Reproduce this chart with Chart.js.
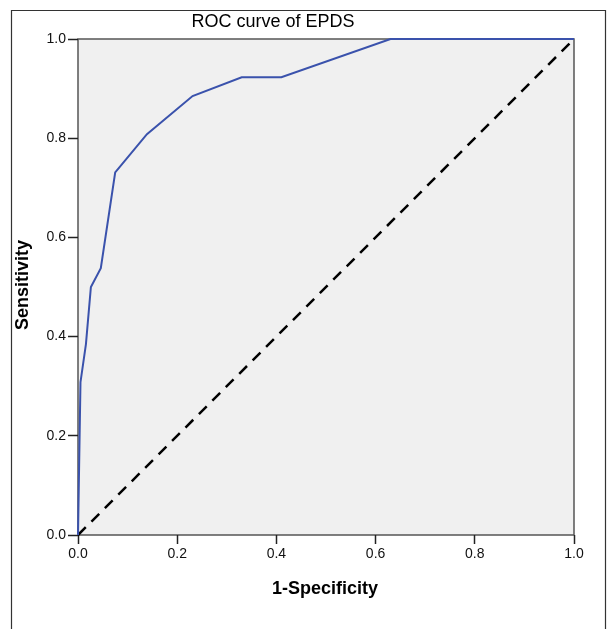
<!DOCTYPE html>
<html>
<head>
<meta charset="utf-8">
<script src="https://cdn.jsdelivr.net/npm/chart.js@4"></script>
<style>
  html, body { margin: 0; padding: 0; background: #fff; }
  #wrap { width: 608px; height: 629px; }
</style>
</head>
<body>
<div id="wrap"><canvas id="roc"></canvas></div>
<script>
// ROC curve points
var fpr = [0, 0.005, 0.016, 0.026, 0.046, 0.075, 0.139, 0.231, 0.33, 0.41, 0.63, 1.0];
var tpr = [0, 0.308, 0.385, 0.5, 0.538, 0.731, 0.808, 0.885, 0.923, 0.923, 1.0, 1.0];
var refX = [0, 1];
var refY = [0, 1];
var tickVals = [0, 0.2, 0.4, 0.6, 0.8, 1.0];

function toPoints(xs, ys) {
    return xs.map(function (x, i) { return { x: x, y: ys[i] }; });
}

var frame = {
    id: 'frame',
    beforeDraw: function (chart) {
        var c = chart.ctx, a = chart.chartArea;
        c.save();
        c.fillStyle = '#f0f0f0';
        c.fillRect(a.left, a.top, a.right - a.left, a.bottom - a.top);
        c.strokeStyle = '#555';
        c.lineWidth = 1.5;
        c.strokeRect(a.left, a.top, a.right - a.left, a.bottom - a.top);
        // outer border
        c.strokeStyle = '#333';
        c.lineWidth = 1.2;
        c.beginPath();
        c.moveTo(11.5, 629);
        c.lineTo(11.5, 10.5);
        c.lineTo(605.5, 10.5);
        c.lineTo(605.5, 629);
        c.stroke();
        c.restore();
    },
    afterDraw: function (chart) {
        var c = chart.ctx;
        c.save();
        c.fillStyle = '#000';
        c.textAlign = 'center';
        c.textBaseline = 'middle';
        c.font = '18px Arial, "Liberation Sans"';
        c.fillText('ROC curve of EPDS', 273, 22);
        c.font = 'bold 18px Arial, "Liberation Sans"';
        c.fillText('1-Specificity', 325, 589);
        c.translate(23, 285);
        c.rotate(-Math.PI / 2);
        c.fillText('Sensitivity', 0, 0);
        c.restore();
    }
};

var ctx = document.getElementById('roc').getContext('2d');
new Chart(ctx, {
    type: 'scatter',
    data: {
        datasets: [{
            data: toPoints(refX, refY),
            showLine: true,
            borderColor: '#000',
            borderWidth: 2.5,
            borderDash: [11, 8],
            pointRadius: 0,
            clip: false,
            order: 2
        }, {
            data: toPoints(fpr, tpr),
            showLine: true,
            borderColor: 'rgb(58, 82, 172)',
            borderWidth: 2,
            pointRadius: 0,
            clip: false,
            order: 1
        }]
    },
    plugins: [frame],
    options: {
        responsive: true,
        maintainAspectRatio: false,
        animation: false,
        layout: { padding: { left: 0, top: 39, right: 34, bottom: 0 } },
        plugins: {
            legend: { display: false },
            tooltip: { enabled: false }
        },
        scales: {
            x: {
                type: 'linear', min: 0, max: 1,
                afterFit: function (s) { s.height = 94; },
                afterBuildTicks: function (s) { s.ticks = tickVals.map(function (v) { return { value: v }; }); },
                grid: { drawOnChartArea: false, tickLength: 9, tickColor: '#222', tickWidth: 1.5 },
                border: { display: false },
                ticks: {
                    padding: 2, color: '#111',
                    font: { family: 'Arial, "Liberation Sans"', size: 14 },
                    callback: function (v) { return v.toFixed(1); }
                }
            },
            y: {
                type: 'linear', min: 0, max: 1,
                afterFit: function (s) { s.width = 78; },
                afterBuildTicks: function (s) { s.ticks = tickVals.map(function (v) { return { value: v }; }); },
                grid: { drawOnChartArea: false, tickLength: 10, tickColor: '#222', tickWidth: 1.5 },
                border: { display: false },
                ticks: {
                    padding: 2, color: '#111',
                    font: { family: 'Arial, "Liberation Sans"', size: 14 },
                    callback: function (v) { return v.toFixed(1); }
                }
            }
        }
    }
});
</script>
</body>
</html>
